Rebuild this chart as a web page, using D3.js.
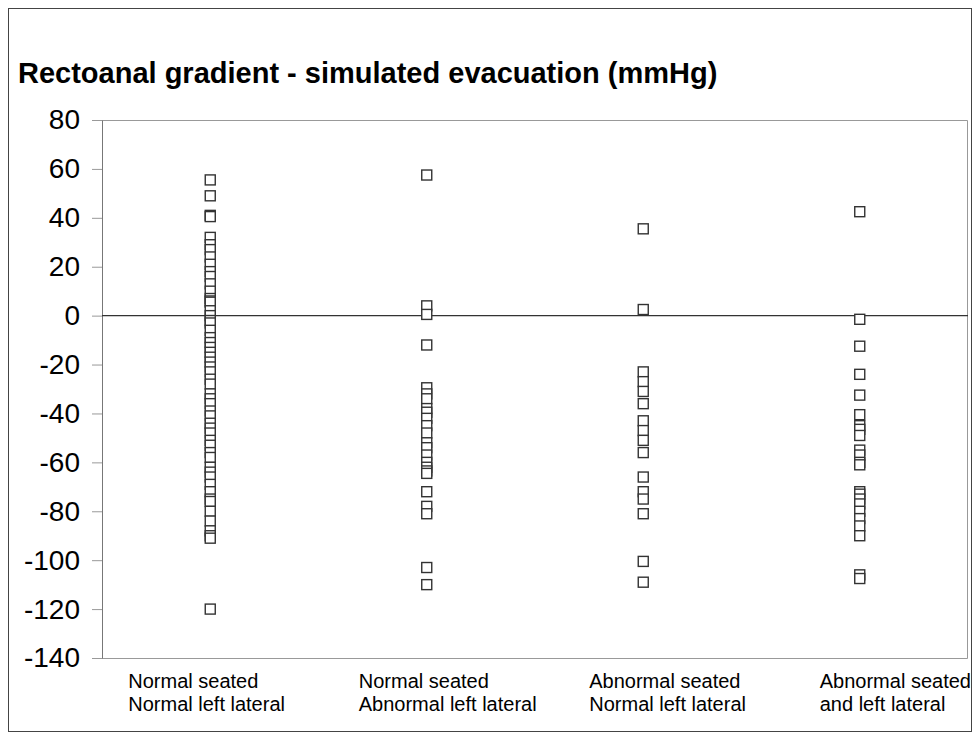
<!DOCTYPE html>
<html lang="en">
<head>
<meta charset="UTF-8">
<title>Rectoanal gradient - simulated evacuation</title>
<script src="https://d3js.org/d3.v7.min.js"></script>
<style>
  body { margin: 0; background: #fff; }
  text { font-family: "Liberation Sans", Arial, sans-serif; }
</style>
</head>
<body>
<svg id="chart" width="977" height="735"></svg>
<script>
// groups (two-line labels)
const groups = [
  ["Normal seated", "Normal left lateral"],
  ["Normal seated", "Abnormal left lateral"],
  ["Abnormal seated", "Normal left lateral"],
  ["Abnormal seated", "and left lateral"]
];

// values (mmHg)
const normNorm = [55.5, 49, 41, 40.5, 32, 29, 27, 24, 21, 18, 16, 13, 10, 7, 6, 5.5, 2, 0,
  -2, -3, -6, -9, -11, -13, -15, -17, -19, -21, -23, -26, -28, -32, -34, -36, -39, -41,
  -44, -46, -48, -51, -53, -56, -58, -62, -64, -66, -69, -72, -75, -76, -80, -84, -88,
  -90, -91, -120];
const normAbn = [57.5, 4, 0.5, -12, -29.5, -32, -34, -38, -39.5, -42, -45, -48, -52, -54,
  -57, -60, -62, -63.5, -64.5, -72, -78, -81, -103, -110];
const abnNorm = [35.5, 2.5, -23, -27, -31, -36, -43, -47, -51, -56, -66, -72, -75, -81,
  -100.5, -109];
const abnAbn = [42.5, -1.5, -12.5, -24, -32.5, -40.5, -45, -46.5, -49, -55, -57, -60, -61,
  -72, -73, -75, -77, -80, -83, -86, -90, -106, -107.5];

const series = [normNorm, normAbn, abnNorm, abnAbn];
const yTicks = [80, 60, 40, 20, 0, -20, -40, -60, -80, -100, -120, -140];

const svg = d3.select("#chart");
const W = 977, H = 735;
const margin = {top: 120, right: 9, bottom: 77, left: 102};
const innerW = W - margin.left - margin.right;
const innerH = H - margin.top - margin.bottom;

// outer frame
svg.append("rect")
  .attr("x", 8.5).attr("y", 8.5)
  .attr("width", 963).attr("height", 723)
  .attr("fill", "none").attr("stroke", "#444").attr("stroke-width", 1);

svg.append("text")
  .attr("x", 18).attr("y", 83)
  .attr("font-size", 29).attr("font-weight", "bold")
  .attr("fill", "#000")
  .text("Rectoanal gradient - simulated evacuation (mmHg)");

const g = svg.append("g").attr("transform", `translate(${margin.left},${margin.top})`);

const x = d3.scaleBand().domain(d3.range(groups.length)).range([0, innerW]);
const y = d3.scaleLinear().domain([-140, 80]).range([innerH, 0]);

// plot area border (top / right / bottom)
g.append("path")
  .attr("d", `M0,0.5H${innerW - 0.5}V${innerH + 0.5}H0`)
  .attr("fill", "none").attr("stroke", "#999");

// y axis
const yAxis = g.append("g")
  .call(d3.axisLeft(y).tickValues(yTicks).tickFormat(d => String(d))
    .tickSize(10).tickSizeOuter(0).tickPadding(12));
yAxis.select(".domain").attr("stroke", "#777");
yAxis.selectAll(".tick line").attr("stroke", "#999");
yAxis.selectAll(".tick text")
  .attr("font-family", "'Liberation Sans', Arial, sans-serif")
  .attr("font-size", 28).attr("fill", "#000");

// zero line
g.append("line")
  .attr("x1", 0).attr("x2", innerW)
  .attr("y1", y(0)).attr("y2", y(0))
  .attr("stroke", "#333").attr("stroke-width", 1.2);

// markers
const s = 10;
series.forEach((vals, i) => {
  g.append("g").selectAll("rect")
    .data(vals)
    .join("rect")
    .attr("x", x(i) + x.bandwidth() / 2 - s / 2)
    .attr("y", d => y(d) - s / 2)
    .attr("width", s).attr("height", s)
    .attr("fill", "#fff")
    .attr("stroke", "#333").attr("stroke-width", 1.4);
});

// category labels
const labelX = i => x(i) + x.bandwidth() / 2 - 82 + 14 * i;
groups.forEach((lines, i) => {
  const t = g.append("text")
    .attr("x", labelX(i))
    .attr("y", innerH + 30)
    .attr("font-size", 20).attr("fill", "#000");
  lines.forEach((l, k) => {
    t.append("tspan")
      .attr("x", labelX(i))
      .attr("dy", k === 0 ? 0 : 23)
      .text(l);
  });
});
</script>
</body>
</html>
